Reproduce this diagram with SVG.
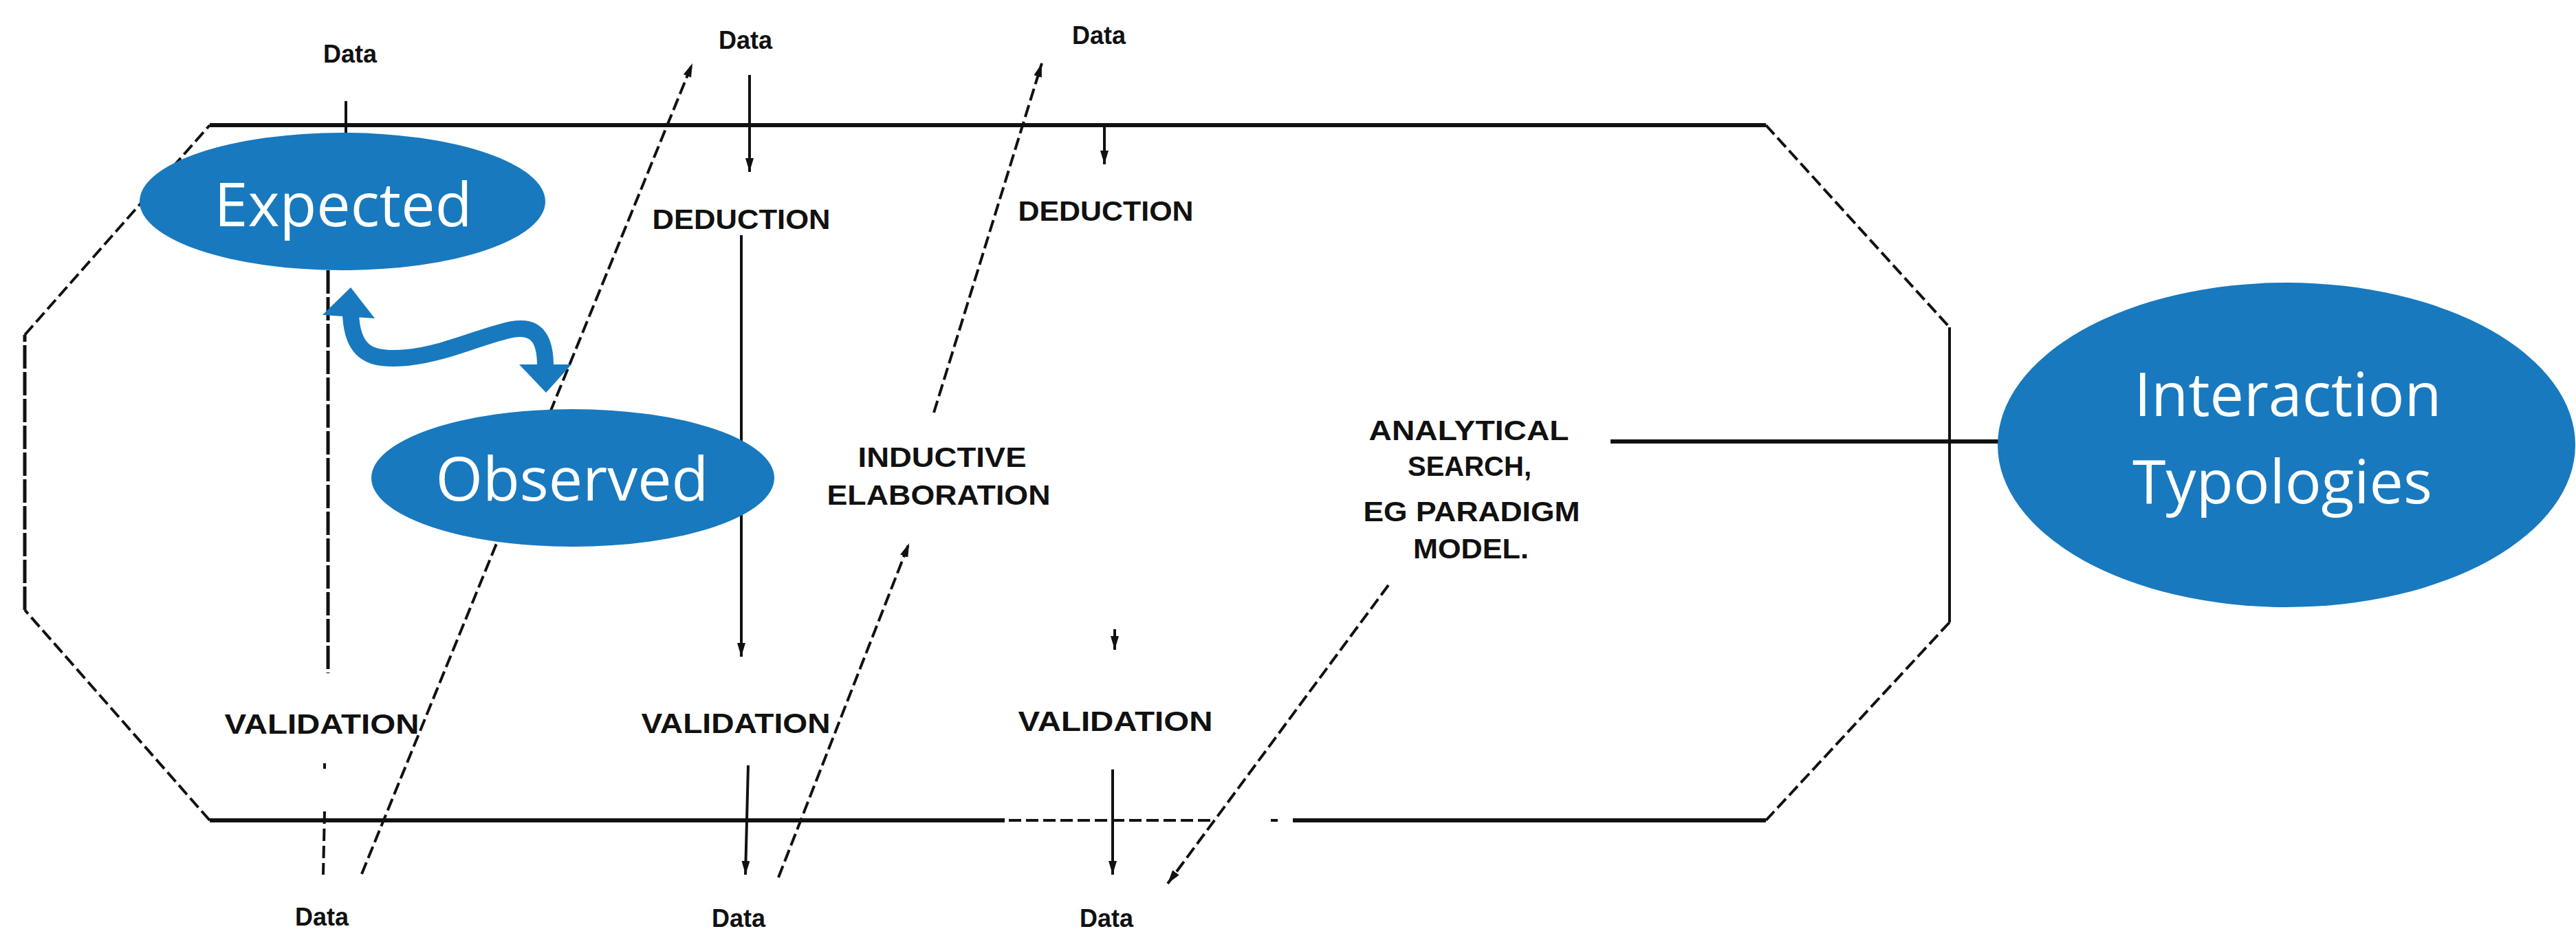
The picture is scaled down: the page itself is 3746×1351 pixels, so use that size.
<svg xmlns="http://www.w3.org/2000/svg" width="3746" height="1351" viewBox="0 0 3746 1351">
<style>
.bg{fill:#ffffff}
.ln{stroke:#111;stroke-width:4;fill:none}
.thick{stroke:#111;stroke-width:6;fill:none}
.dash{stroke:#111;stroke-width:4;fill:none;stroke-dasharray:18 7}
.ldash{stroke:#111;stroke-width:5;fill:none;stroke-dasharray:34 5}
.lbl{font-family:"Liberation Sans",Arial,sans-serif;font-weight:bold;font-size:40px;fill:#111;text-anchor:middle}
.data{font-family:"Liberation Sans",Arial,sans-serif;font-weight:bold;font-size:36px;fill:#111;text-anchor:middle}
.blue{fill:#1879bf}
.wt{font-family:"Open Sans","Noto Sans",sans-serif;font-weight:400;font-size:88px;fill:#ffffff;text-anchor:middle}
</style>
<defs>
<marker id="ah" viewBox="0 0 20 12" refX="20" refY="6" markerWidth="20" markerHeight="12" markerUnits="userSpaceOnUse" orient="auto">
<path d="M0,0 L20,6 L0,12 z" fill="#111"/>
</marker>
</defs>
<rect class="bg" x="0" y="0" width="3746" height="1351"/>

<g id="frame">
<line class="thick" x1="305" y1="182" x2="2568" y2="182"/>
<line class="dash" x1="2568" y1="182" x2="2835" y2="476"/>
<line class="ln" x1="2835" y1="476" x2="2835" y2="905"/>
<line class="dash" x1="2835" y1="905" x2="2568" y2="1193"/>
<line class="thick" x1="2568" y1="1193" x2="1880" y2="1193"/>
<line class="dash" x1="1848" y1="1193" x2="1858" y2="1193"/>
<line class="dash" x1="1760" y1="1193" x2="1461" y2="1193"/>
<line class="thick" x1="1461" y1="1193" x2="305" y2="1193"/>
<line class="dash" x1="305" y1="1193" x2="36" y2="887"/>
<line class="ldash" x1="36" y1="887" x2="36" y2="487"/>
<line class="dash" x1="36" y1="487" x2="305" y2="182"/>
</g>

<g id="connectors">
<line class="ln" x1="503" y1="147" x2="503" y2="200"/>
<line class="ldash" x1="477" y1="393" x2="477" y2="979"/>
<line class="ln" x1="472" y1="1110" x2="472" y2="1118"/>
<line class="dash" x1="472" y1="1180" x2="470" y2="1272"/>
<line class="dash" x1="526" y1="1271" x2="1007" y2="92" marker-end="url(#ah)"/>
<line class="ln" x1="1090" y1="109" x2="1090" y2="250" marker-end="url(#ah)"/>
<line class="ln" x1="1078" y1="342" x2="1078" y2="955" marker-end="url(#ah)"/>
<line class="ln" x1="1088" y1="1113" x2="1084" y2="1272" marker-end="url(#ah)"/>
<line class="dash" x1="1358" y1="600" x2="1515" y2="92" marker-end="url(#ah)"/>
<line class="dash" x1="1132" y1="1276" x2="1322" y2="790" marker-end="url(#ah)"/>
<line class="ln" x1="1606" y1="185" x2="1606" y2="239" marker-end="url(#ah)"/>
<line class="ln" x1="1621" y1="915" x2="1621" y2="945" marker-end="url(#ah)"/>
<line class="ln" x1="1618" y1="1119" x2="1618" y2="1272" marker-end="url(#ah)"/>
<line class="dash" x1="2019" y1="851" x2="1698" y2="1285" marker-end="url(#ah)"/>
<line class="thick" x1="2342" y1="642" x2="2910" y2="642"/>
<path d="M510,456 C512,515 540,525 592,520 C650,514 700,488 745,479 C785,472 793,500 793,532" fill="none" stroke="#1879bf" stroke-width="24"/>
<polygon class="blue" points="510,418 469,458 545,463"/>
<polygon class="blue" points="794,571 755,530 831,530"/>
</g>

<g id="labels">
<text class="data" x="509" y="91">Data</text>
<text class="data" x="1084" y="71">Data</text>
<text class="data" x="1598" y="64">Data</text>
<text class="data" x="468" y="1346">Data</text>
<text class="data" x="1074" y="1348">Data</text>
<text class="data" x="1609" y="1348">Data</text>
<text class="lbl" x="1078" y="333" textLength="259" lengthAdjust="spacingAndGlyphs">DEDUCTION</text>
<text class="lbl" x="1608" y="321" textLength="255" lengthAdjust="spacingAndGlyphs">DEDUCTION</text>
<text class="lbl" x="1370" y="679" textLength="245" lengthAdjust="spacingAndGlyphs">INDUCTIVE</text>
<text class="lbl" x="1365" y="734" textLength="325" lengthAdjust="spacingAndGlyphs">ELABORATION</text>
<text class="lbl" x="468" y="1067" textLength="283" lengthAdjust="spacingAndGlyphs">VALIDATION</text>
<text class="lbl" x="1070" y="1066" textLength="275" lengthAdjust="spacingAndGlyphs">VALIDATION</text>
<text class="lbl" x="1622" y="1063" textLength="283" lengthAdjust="spacingAndGlyphs">VALIDATION</text>
<text class="lbl" x="2136" y="640" textLength="291" lengthAdjust="spacingAndGlyphs">ANALYTICAL</text>
<text class="lbl" x="2137" y="692" textLength="180" lengthAdjust="spacingAndGlyphs">SEARCH,</text>
<text class="lbl" x="2140" y="758" textLength="315" lengthAdjust="spacingAndGlyphs">EG PARADIGM</text>
<text class="lbl" x="2139" y="812" textLength="168" lengthAdjust="spacingAndGlyphs">MODEL.</text>
</g>

<g id="expected">
<ellipse class="blue" cx="498" cy="293" rx="295" ry="100"/>
<text class="wt" x="499" y="329">Expected</text>
</g>
<g id="observed">
<ellipse class="blue" cx="833" cy="695" rx="293" ry="100"/>
<text class="wt" x="832" y="728">Observed</text>
</g>
<g id="interaction-typologies">
<ellipse class="blue" cx="3325" cy="647" rx="420" ry="236"/>
<text class="wt" x="3327" y="605">Interaction</text>
<text class="wt" x="3319" y="732">Typologies</text>
</g>
</svg>
